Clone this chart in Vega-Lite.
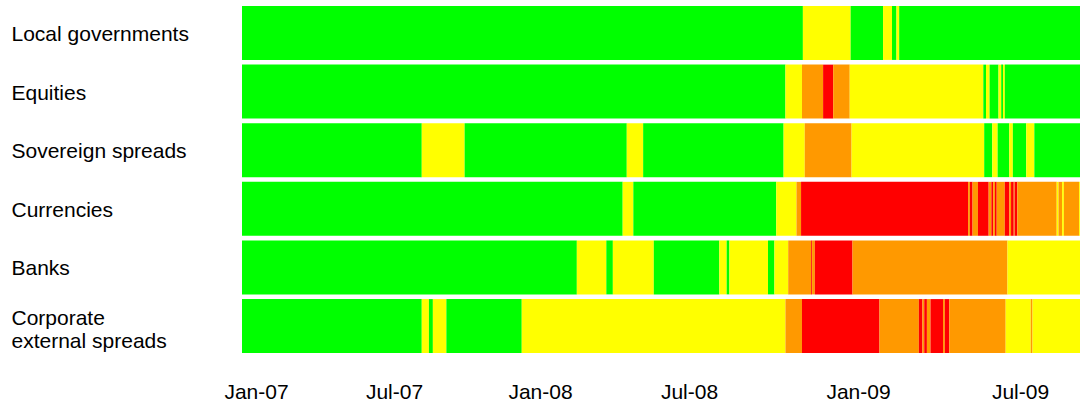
{
  "$schema": "https://vega.github.io/schema/vega-lite/v6.json",
  "autosize": {"type": "none"},
  "padding": {"left": 242, "top": 6, "right": 2, "bottom": 51},
  "width": 838,
  "height": 347,
  "config": {"font": "Liberation Sans", "view": {"stroke": null}},
  "data": {
    "format": {"parse": {"start": "date", "end": "date"}},
    "values": [
      {"market": "Local governments", "start": "2006-12-14", "end": "2008-11-02", "level": "Low"},
      {"market": "Local governments", "start": "2008-11-02", "end": "2008-12-24", "level": "Medium"},
      {"market": "Local governments", "start": "2008-12-24", "end": "2009-01-29", "level": "Low"},
      {"market": "Local governments", "start": "2009-01-29", "end": "2009-02-08", "level": "Medium"},
      {"market": "Local governments", "start": "2009-02-08", "end": "2009-02-13", "level": "Low"},
      {"market": "Local governments", "start": "2009-02-13", "end": "2009-02-16", "level": "Medium"},
      {"market": "Local governments", "start": "2009-02-16", "end": "2009-09-06", "level": "Low"},

      {"market": "Equities", "start": "2006-12-14", "end": "2008-10-14", "level": "Low"},
      {"market": "Equities", "start": "2008-10-14", "end": "2008-11-01", "level": "Medium"},
      {"market": "Equities", "start": "2008-11-01", "end": "2008-11-24", "level": "High"},
      {"market": "Equities", "start": "2008-11-24", "end": "2008-12-05", "level": "Very high"},
      {"market": "Equities", "start": "2008-12-05", "end": "2008-12-23", "level": "High"},
      {"market": "Equities", "start": "2008-12-23", "end": "2009-05-21", "level": "Medium"},
      {"market": "Equities", "start": "2009-05-21", "end": "2009-05-24", "level": "Low"},
      {"market": "Equities", "start": "2009-05-24", "end": "2009-05-28", "level": "Medium"},
      {"market": "Equities", "start": "2009-05-28", "end": "2009-06-07", "level": "Low"},
      {"market": "Equities", "start": "2009-06-07", "end": "2009-06-10", "level": "Medium"},
      {"market": "Equities", "start": "2009-06-10", "end": "2009-06-12", "level": "Low"},
      {"market": "Equities", "start": "2009-06-12", "end": "2009-06-14", "level": "Medium"},
      {"market": "Equities", "start": "2009-06-14", "end": "2009-09-06", "level": "Low"},

      {"market": "Sovereign spreads", "start": "2006-12-14", "end": "2007-08-05", "level": "Low"},
      {"market": "Sovereign spreads", "start": "2007-08-05", "end": "2007-09-28", "level": "Medium"},
      {"market": "Sovereign spreads", "start": "2007-09-28", "end": "2008-04-16", "level": "Low"},
      {"market": "Sovereign spreads", "start": "2008-04-16", "end": "2008-05-06", "level": "Medium"},
      {"market": "Sovereign spreads", "start": "2008-05-06", "end": "2008-10-12", "level": "Low"},
      {"market": "Sovereign spreads", "start": "2008-10-12", "end": "2008-11-04", "level": "Medium"},
      {"market": "Sovereign spreads", "start": "2008-11-04", "end": "2008-12-25", "level": "High"},
      {"market": "Sovereign spreads", "start": "2008-12-25", "end": "2009-05-22", "level": "Medium"},
      {"market": "Sovereign spreads", "start": "2009-05-22", "end": "2009-05-31", "level": "Low"},
      {"market": "Sovereign spreads", "start": "2009-05-31", "end": "2009-06-06", "level": "Medium"},
      {"market": "Sovereign spreads", "start": "2009-06-06", "end": "2009-06-19", "level": "Low"},
      {"market": "Sovereign spreads", "start": "2009-06-19", "end": "2009-06-23", "level": "Medium"},
      {"market": "Sovereign spreads", "start": "2009-06-23", "end": "2009-07-08", "level": "Low"},
      {"market": "Sovereign spreads", "start": "2009-07-08", "end": "2009-07-17", "level": "Medium"},
      {"market": "Sovereign spreads", "start": "2009-07-17", "end": "2009-09-06", "level": "Low"},

      {"market": "Currencies", "start": "2006-12-14", "end": "2008-04-11", "level": "Low"},
      {"market": "Currencies", "start": "2008-04-11", "end": "2008-04-24", "level": "Medium"},
      {"market": "Currencies", "start": "2008-04-24", "end": "2008-10-04", "level": "Low"},
      {"market": "Currencies", "start": "2008-10-04", "end": "2008-10-26", "level": "Medium"},
      {"market": "Currencies", "start": "2008-10-26", "end": "2008-10-31", "level": "High"},
      {"market": "Currencies", "start": "2008-10-31", "end": "2009-05-04", "level": "Very high"},
      {"market": "Currencies", "start": "2009-05-04", "end": "2009-05-06", "level": "High"},
      {"market": "Currencies", "start": "2009-05-06", "end": "2009-05-09", "level": "Very high"},
      {"market": "Currencies", "start": "2009-05-09", "end": "2009-05-15", "level": "High"},
      {"market": "Currencies", "start": "2009-05-15", "end": "2009-05-27", "level": "Very high"},
      {"market": "Currencies", "start": "2009-05-27", "end": "2009-05-30", "level": "High"},
      {"market": "Currencies", "start": "2009-05-30", "end": "2009-06-01", "level": "Very high"},
      {"market": "Currencies", "start": "2009-06-01", "end": "2009-06-03", "level": "High"},
      {"market": "Currencies", "start": "2009-06-03", "end": "2009-06-05", "level": "Very high"},
      {"market": "Currencies", "start": "2009-06-05", "end": "2009-06-14", "level": "High"},
      {"market": "Currencies", "start": "2009-06-14", "end": "2009-06-19", "level": "Very high"},
      {"market": "Currencies", "start": "2009-06-19", "end": "2009-06-21", "level": "High"},
      {"market": "Currencies", "start": "2009-06-21", "end": "2009-06-24", "level": "Very high"},
      {"market": "Currencies", "start": "2009-06-24", "end": "2009-06-25", "level": "High"},
      {"market": "Currencies", "start": "2009-06-25", "end": "2009-06-28", "level": "Very high"},
      {"market": "Currencies", "start": "2009-06-28", "end": "2009-08-11", "level": "High"},
      {"market": "Currencies", "start": "2009-08-11", "end": "2009-08-13", "level": "Medium"},
      {"market": "Currencies", "start": "2009-08-13", "end": "2009-08-17", "level": "High"},
      {"market": "Currencies", "start": "2009-08-17", "end": "2009-08-19", "level": "Medium"},
      {"market": "Currencies", "start": "2009-08-19", "end": "2009-09-05", "level": "High"},
      {"market": "Currencies", "start": "2009-09-05", "end": "2009-09-06", "level": "Medium"},

      {"market": "Banks", "start": "2006-12-14", "end": "2008-02-15", "level": "Low"},
      {"market": "Banks", "start": "2008-02-15", "end": "2008-03-22", "level": "Medium"},
      {"market": "Banks", "start": "2008-03-22", "end": "2008-03-30", "level": "Low"},
      {"market": "Banks", "start": "2008-03-30", "end": "2008-05-19", "level": "Medium"},
      {"market": "Banks", "start": "2008-05-19", "end": "2008-08-03", "level": "Low"},
      {"market": "Banks", "start": "2008-08-03", "end": "2008-08-11", "level": "Medium"},
      {"market": "Banks", "start": "2008-08-11", "end": "2008-08-14", "level": "Low"},
      {"market": "Banks", "start": "2008-08-14", "end": "2008-09-25", "level": "Medium"},
      {"market": "Banks", "start": "2008-09-25", "end": "2008-10-02", "level": "Low"},
      {"market": "Banks", "start": "2008-10-02", "end": "2008-10-17", "level": "Medium"},
      {"market": "Banks", "start": "2008-10-17", "end": "2008-11-11", "level": "High"},
      {"market": "Banks", "start": "2008-11-11", "end": "2008-11-12", "level": "Very high"},
      {"market": "Banks", "start": "2008-11-12", "end": "2008-11-15", "level": "High"},
      {"market": "Banks", "start": "2008-11-15", "end": "2008-12-26", "level": "Very high"},
      {"market": "Banks", "start": "2008-12-26", "end": "2009-06-17", "level": "High"},
      {"market": "Banks", "start": "2009-06-17", "end": "2009-09-06", "level": "Medium"},

      {"market": "Corporate external spreads", "start": "2006-12-14", "end": "2007-08-05", "level": "Low"},
      {"market": "Corporate external spreads", "start": "2007-08-05", "end": "2007-08-14", "level": "Medium"},
      {"market": "Corporate external spreads", "start": "2007-08-14", "end": "2007-08-19", "level": "Low"},
      {"market": "Corporate external spreads", "start": "2007-08-19", "end": "2007-09-05", "level": "Medium"},
      {"market": "Corporate external spreads", "start": "2007-09-05", "end": "2007-12-09", "level": "Low"},
      {"market": "Corporate external spreads", "start": "2007-12-09", "end": "2008-10-14", "level": "Medium"},
      {"market": "Corporate external spreads", "start": "2008-10-14", "end": "2008-11-01", "level": "High"},
      {"market": "Corporate external spreads", "start": "2008-11-01", "end": "2009-01-25", "level": "Very high"},
      {"market": "Corporate external spreads", "start": "2009-01-25", "end": "2009-03-10", "level": "High"},
      {"market": "Corporate external spreads", "start": "2009-03-10", "end": "2009-03-14", "level": "Very high"},
      {"market": "Corporate external spreads", "start": "2009-03-14", "end": "2009-03-16", "level": "High"},
      {"market": "Corporate external spreads", "start": "2009-03-16", "end": "2009-03-19", "level": "Very high"},
      {"market": "Corporate external spreads", "start": "2009-03-19", "end": "2009-03-23", "level": "High"},
      {"market": "Corporate external spreads", "start": "2009-03-23", "end": "2009-04-06", "level": "Very high"},
      {"market": "Corporate external spreads", "start": "2009-04-06", "end": "2009-04-08", "level": "High"},
      {"market": "Corporate external spreads", "start": "2009-04-08", "end": "2009-04-13", "level": "Very high"},
      {"market": "Corporate external spreads", "start": "2009-04-13", "end": "2009-06-15", "level": "High"},
      {"market": "Corporate external spreads", "start": "2009-06-15", "end": "2009-07-13", "level": "Medium"},
      {"market": "Corporate external spreads", "start": "2009-07-13", "end": "2009-07-15", "level": "High"},
      {"market": "Corporate external spreads", "start": "2009-07-15", "end": "2009-09-06", "level": "Medium"}
    ]
  },
  "mark": {"type": "bar"},
  "encoding": {
    "y": {
      "field": "market",
      "type": "nominal",
      "sort": null,
      "scale": {"paddingInner": 0.08, "paddingOuter": 0},
      "axis": {
        "title": null,
        "domain": false,
        "ticks": false,
        "tickSize": 0,
        "labelAlign": "left",
        "labelBaseline": "middle",
        "labelPadding": 231,
        "labelLimit": 0,
        "labelFontSize": 21,
        "labelColor": "#000000",
        "labelLineHeight": 23,
        "labelOffset": {"condition": {"test": "datum.value == 'Corporate external spreads'", "value": -7}, "value": 2},
        "labelExpr": "datum.value == 'Corporate external spreads' ? ['Corporate', 'external spreads'] : datum.value"
      }
    },
    "x": {
      "field": "start",
      "type": "quantitative",
      "scale": {
        "type": "linear",
        "nice": false,
        "zero": false,
        "domain": [1166054400000, 1167609600000, 1183248000000, 1199145600000, 1214870400000, 1230768000000, 1246406400000, 1252195200000],
        "range": [0, 14, 152, 298, 447, 616, 778, 838]
      },
      "axis": {
        "title": null,
        "domain": false,
        "ticks": false,
        "tickSize": 0,
        "grid": false,
        "labelPadding": 28,
        "labelFontSize": 21,
        "labelColor": "#000000",
        "labelOverlap": false,
        "labelBound": false,
        "labelFlush": false,
        "values": [1167609600000, 1183248000000, 1199145600000, 1214870400000, 1230768000000, 1246406400000],
        "labelExpr": "utcFormat(datum.value, '%b-%y')"
      }
    },
    "x2": {"field": "end"},
    "color": {
      "field": "level",
      "type": "nominal",
      "legend": null,
      "scale": {
        "domain": ["Low", "Medium", "High", "Very high"],
        "range": ["#00FF00", "#FFFF00", "#FF9900", "#FF0000"]
      }
    }
  }
}
